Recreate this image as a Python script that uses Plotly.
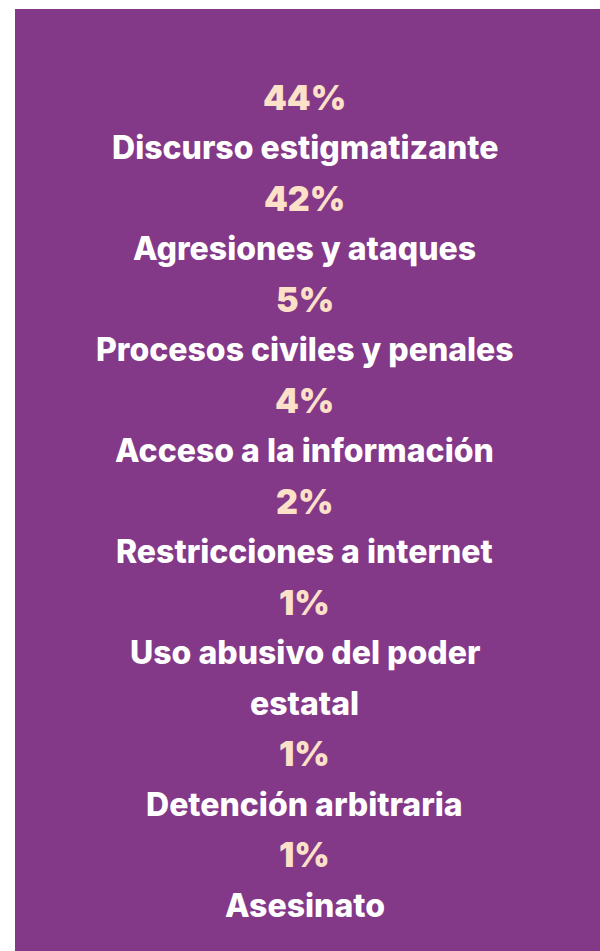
import plotly.graph_objects as go

categories = [
    "Discurso estigmatizante",
    "Agresiones y ataques",
    "Procesos civiles y penales",
    "Acceso a la información",
    "Restricciones a internet",
    "Uso abusivo del poder<br>estatal",
    "Detención arbitraria",
    "Asesinato",
]
percent_labels = ["44%", "42%", "5%", "4%", "2%", "1%", "1%", "1%"]

BG = "#843888"
PEACH = "#FCE0C8"
WHITE = "#FFFFFF"

first_line = 88.0
line_step = 50.5
center_x = 0.4955

fig = go.Figure()
annotations = []
line = 0
for pct, cat in zip(percent_labels, categories):
    annotations.append(dict(
        x=center_x, y=first_line + line * line_step, xref="paper", yref="y",
        text=pct, showarrow=False, xanchor="center", yanchor="middle",
        font=dict(family="Inter", size=34, color=PEACH, weight=900),
    ))
    line += 1
    for part in cat.split("<br>"):
        annotations.append(dict(
            x=center_x, y=first_line + line * line_step, xref="paper", yref="y",
            text=part, showarrow=False, xanchor="center", yanchor="middle",
            font=dict(family="Inter", size=32, color=WHITE, weight=800),
        ))
        line += 1

fig.update_layout(
    width=600, height=951,
    margin=dict(l=15, r=0, t=9, b=0),
    paper_bgcolor="white",
    plot_bgcolor=BG,
    xaxis=dict(visible=False, range=[0, 1], fixedrange=True),
    yaxis=dict(visible=False, range=[942, 0], fixedrange=True),
    annotations=annotations,
    showlegend=False,
)

fig.write_html(
    "out.html",
    config={"displayModeBar": False},
    post_script="document.body.style.margin='0';document.body.style.overflow='hidden';",
)
